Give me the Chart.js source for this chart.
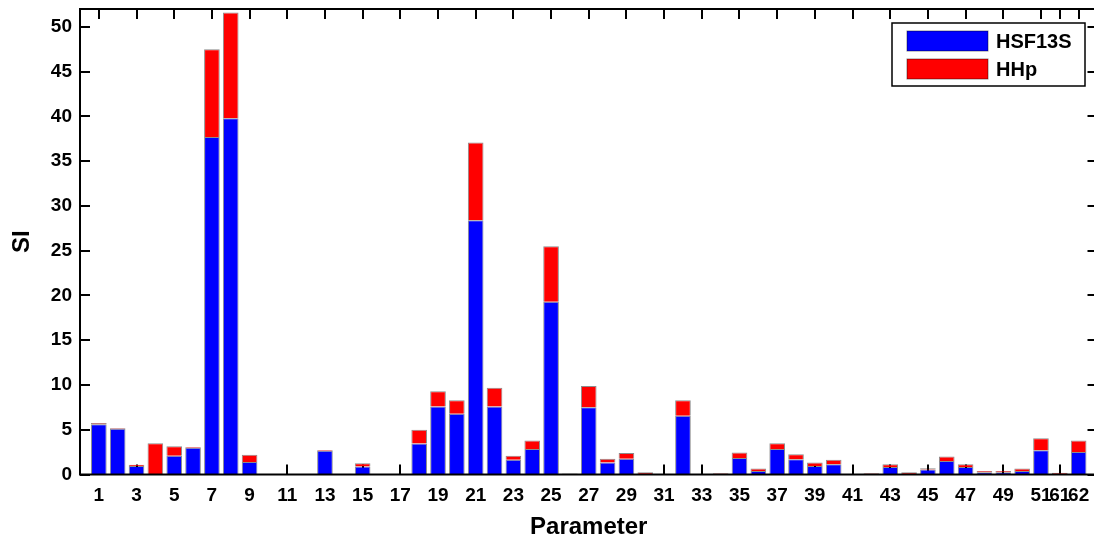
<!DOCTYPE html>
<html>
<head>
<meta charset="utf-8">
<script src="https://cdn.jsdelivr.net/npm/chart.js@4/dist/chart.umd.min.js"></script>
<style>
  html, body { margin: 0; padding: 0; background: #fff; overflow: hidden; }
  #wrap { width: 1104px; height: 539px; }
</style>
</head>
<body>
<div id="wrap"><canvas id="siChart" width="1104" height="539"></canvas></div>
<script>
const params = [
  "1", "2", "3", "4", "5", "6", "7", "8", "9", "10",
  "11", "12", "13", "14", "15", "16", "17", "18", "19", "20",
  "21", "22", "23", "24", "25", "26", "27", "28", "29", "30",
  "31", "32", "33", "34", "35", "36", "37", "38", "39", "40",
  "41", "42", "43", "44", "45", "46", "47", "48", "49", "50",
  "51", "61", "62"
];
const hsf13s = [
  5.6, 5.1, 0.95, 0, 2.1, 3.0, 37.7, 39.8, 1.4, 0,
  0, 0, 2.65, 0, 0.9, 0, 0, 3.45, 7.6, 6.8,
  28.4, 7.6, 1.65, 2.85, 19.3, 0, 7.5, 1.35, 1.75, 0.05,
  0, 6.55, 0, 0, 1.85, 0.4, 2.85, 1.7, 0.95, 1.15,
  0, 0, 0.85, 0.05, 0.55, 1.5, 0.85, 0.25, 0.25, 0.4,
  2.7, 0, 2.5
];
const hhp = [
  0.15, 0.1, 0.15, 3.5, 1.05, 0.08, 9.8, 11.8, 0.8, 0,
  0, 0, 0.1, 0, 0.35, 0, 0, 1.55, 1.7, 1.5,
  8.7, 2.1, 0.45, 0.95, 6.2, 0.12, 2.4, 0.4, 0.65, 0.2,
  0, 1.75, 0, 0.15, 0.6, 0.27, 0.65, 0.55, 0.4, 0.5,
  0, 0.15, 0.3, 0.2, 0.15, 0.5, 0.3, 0.15, 0.15, 0.27,
  1.35, 0.2, 1.3
];
const xTickLabels = [
  "1", "3", "5", "7", "9", "11", "13", "15", "17", "19", "21", "23", "25",
  "27", "29", "31", "33", "35", "37", "39", "41", "43", "45", "47", "49",
  "51", "61", "62"
];
const yTicks = [0, 5, 10, 15, 20, 25, 30, 35, 40, 45, 50];

// one empty slot on each side so the axis runs from 0 to 54 like the original
const labels = ["", ...params, ""];
const pad = (arr) => [null, ...arr, null];

const FONT = "'Liberation Sans', Arial, Helvetica, sans-serif";

// MATLAB style box with inward ticks on all four sides
const boxTicks = {
  id: "boxTicks",
  beforeDatasetsDraw(chart) {
    const { ctx, chartArea: a, scales: { x, y } } = chart;
    ctx.save();
    ctx.strokeStyle = "#000";
    ctx.lineWidth = 2;
    ctx.beginPath();
    labels.forEach((lab, i) => {
      if (!lab || !xTickLabels.includes(lab)) return;
      const px = Math.round(x.getPixelForValue(i));
      ctx.moveTo(px, a.bottom);
      ctx.lineTo(px, a.bottom - 10);
      ctx.moveTo(px, a.top);
      ctx.lineTo(px, a.top + 10);
    });
    yTicks.forEach((v) => {
      const py = Math.round(y.getPixelForValue(v));
      ctx.moveTo(a.left, py);
      ctx.lineTo(a.left + 10, py);
      ctx.moveTo(a.right, py);
      ctx.lineTo(a.right - 10, py);
    });
    ctx.stroke();
    ctx.restore();
  },
  afterDatasetsDraw(chart) {
    const { ctx, chartArea: a } = chart;
    ctx.save();
    ctx.strokeStyle = "#000";
    ctx.lineWidth = 2;
    ctx.strokeRect(a.left, a.top, a.right - a.left, a.bottom - a.top);

    // legend box in the upper right corner
    const lx = a.left + 812, ly = a.top + 14, lw = 193, lh = 63;
    ctx.fillStyle = "#fff";
    ctx.fillRect(lx, ly, lw, lh);
    ctx.lineWidth = 1.5;
    ctx.strokeRect(lx, ly, lw, lh);
    ctx.font = "bold 20px " + FONT;
    ctx.textBaseline = "middle";
    chart.data.datasets.forEach((ds, i) => {
      const rowY = ly + 18 + i * 28;
      ctx.fillStyle = ds.backgroundColor;
      ctx.fillRect(lx + 15, rowY - 10, 81, 20);
      ctx.lineWidth = 1;
      ctx.strokeStyle = "rgba(0,0,0,0.45)";
      ctx.strokeRect(lx + 15, rowY - 10, 81, 20);
      ctx.fillStyle = "#000";
      ctx.fillText(ds.label, lx + 104, rowY + 1);
    });
    ctx.restore();
  }
};

new Chart(document.getElementById("siChart"), {
  type: "bar",
  data: {
    labels: labels,
    datasets: [
      {
        label: "HSF13S",
        data: pad(hsf13s),
        backgroundColor: "#0000ff",
        borderColor: "rgba(0,0,0,0.45)",
        borderWidth: 1,
        borderSkipped: "start"
      },
      {
        label: "HHp",
        data: pad(hhp),
        backgroundColor: "#ff0000",
        borderColor: "rgba(0,0,0,0.45)",
        borderWidth: 1,
        borderSkipped: "start"
      }
    ]
  },
  options: {
    responsive: false,
    animation: false,
    devicePixelRatio: 1,
    layout: { padding: { top: 9, right: 6.5, left: 0, bottom: 0 } },
    datasets: { bar: { barPercentage: 0.83, categoryPercentage: 1 } },
    plugins: {
      legend: { display: false },
      tooltip: { enabled: false }
    },
    scales: {
      x: {
        stacked: true,
        offset: false,
        grid: { display: false, drawTicks: false },
        border: { display: false },
        afterFit: (s) => {
          s.height = 64.5;
          s.paddingLeft = 0;
          s.paddingRight = 0;
        },
        ticks: {
          autoSkip: false,
          maxRotation: 0,
          minRotation: 0,
          padding: 10,
          color: "#000",
          font: { family: FONT, size: 19, weight: "bold" },
          callback: function (value) {
            const lab = this.getLabelForValue(value);
            return xTickLabels.includes(lab) ? lab : "";
          }
        },
        title: {
          display: true,
          text: "Parameter",
          color: "#000",
          padding: { top: 0, bottom: 0 },
          font: { family: FONT, size: 24, weight: "bold", lineHeight: 1 }
        }
      },
      y: {
        stacked: true,
        min: 0,
        max: 52,
        grid: { display: false, drawTicks: false },
        border: { display: false },
        afterFit: (s) => {
          s.width = 80;
          s.paddingTop = 0;
          s.paddingBottom = 0;
        },
        afterBuildTicks: (s) => { s.ticks = yTicks.map((v) => ({ value: v })); },
        ticks: {
          padding: 8,
          color: "#000",
          font: { family: FONT, size: 19, weight: "bold" }
        },
        title: {
          display: true,
          text: "SI",
          color: "#000",
          padding: { top: 10, bottom: 0 },
          font: { family: FONT, size: 24, weight: "bold", lineHeight: 1 }
        }
      }
    }
  },
  plugins: [boxTicks]
});
</script>
</body>
</html>
